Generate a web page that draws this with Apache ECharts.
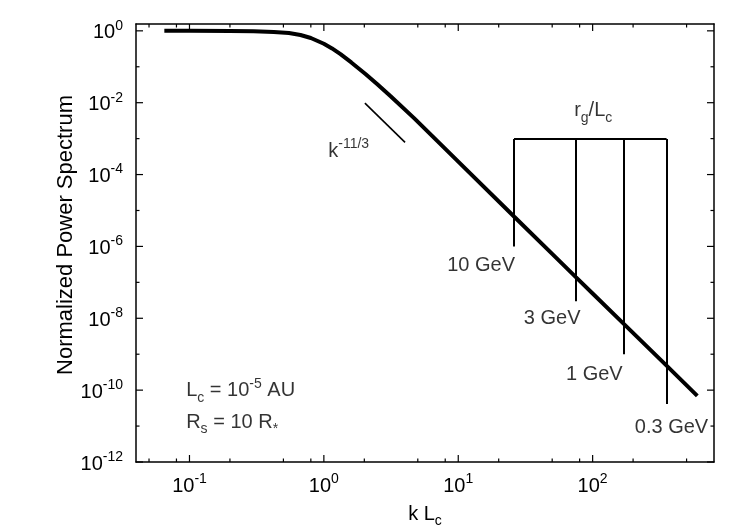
<!DOCTYPE html>
<html>
<head>
<meta charset="utf-8">
<script src="https://cdn.jsdelivr.net/npm/echarts@6/dist/echarts.min.js"></script>
<style>
  html, body { margin: 0; padding: 0; background: #fff; }
  #chart { width: 750px; height: 525px; }
</style>
</head>
<body>
<div id="chart"></div>
<script>
// spectrum (k L_c, normalized power)
const kValues = [0.065, 0.1, 0.2, 0.3, 0.424, 0.55, 0.67, 0.8, 1.0, 1.15, 1.33, 1.6, 2.04, 2.5, 3.14, 4.69, 7, 10, 26, 50, 75, 100, 169, 355, 601];
const powerValues = [1.0, 1.0, 0.991, 0.970, 0.933, 0.871, 0.767, 0.631, 0.437, 0.324, 0.224, 0.132, 0.063, 0.0324, 0.0151, 0.00372, 8.5e-4, 2.29e-4, 6.8e-6, 6.2e-7, 1.4e-7, 4.9e-8, 7.2e-9, 4.8e-10, 6.9e-11];

// k^-11/3 guide segment
const slopeK = [2.02, 4.02];
const slopeP = [9.7e-3, 7.9e-4];

// r_g/L_c bracket
const bracketK = [26, 75, 170, 355];
const bracketTop = 9.7e-4;
const bracketBottoms = [1e-6, 3e-8, 1e-9, 4.1e-11];
const bracketNames = ['10 GeV', '3 GeV', '1 GeV', '0.3 GeV'];
const bracketLabelK = [14.8, 50, 103, 386];
const bracketLabelP = [2.95e-7, 9.6e-9, 2.8e-10, 9.2e-12];

// tick values
const xMajorTicks = [0.1, 1, 10, 100];
const xMinorTicks = [0.05, 0.08, 0.2, 0.5, 0.8, 2, 5, 8, 20, 50, 80, 200, 500];
const yMajorTicks = [1, 1e-2, 1e-4, 1e-6, 1e-8, 1e-10, 1e-12];
const yMinorTicks = [1e-1, 1e-3, 1e-5, 1e-7, 1e-9, 1e-11];
const yTickExponents = [0, -2, -4, -6, -8, -10, -12];

const FONT = 'Liberation Sans, Arial, Helvetica, sans-serif';
const LH = 28;

const chart = echarts.init(document.getElementById('chart'), null, {renderer: 'canvas'});

// rich styles: n = normal, sup = superscript, sub = subscript
const rich = {
  n: {fontSize: 20, fontFamily: FONT, color: '#000', lineHeight: LH, verticalAlign: 'middle'},
  sup: {fontSize: 14, fontFamily: FONT, color: '#000', lineHeight: LH, verticalAlign: 'top'},
  sub: {fontSize: 14, fontFamily: FONT, color: '#000', lineHeight: LH, verticalAlign: 'bottom'}
};

function powLabel(v) {
  const e = Math.log10(v);
  const r = Math.round(e);
  if (Math.abs(e - r) > 1e-6) return '';
  return '{n|10}{sup|' + r + '}';
}

function xTicks(len) {
  return function (params, api) {
    const cs = params.coordSys;
    const x = api.coord([api.value(0), 1e-6])[0];
    const yb = cs.y + cs.height;
    const style = {stroke: '#000', lineWidth: 1.2};
    return {type: 'group', children: [
      {type: 'line', shape: {x1: x, y1: yb, x2: x, y2: yb - len}, style: style},
      {type: 'line', shape: {x1: x, y1: cs.y, x2: x, y2: cs.y + len}, style: style}
    ]};
  };
}

function yTicks(len) {
  return function (params, api) {
    const cs = params.coordSys;
    const y = api.coord([1, api.value(0)])[1];
    const xr = cs.x + cs.width;
    const style = {stroke: '#000', lineWidth: 1.2};
    return {type: 'group', children: [
      {type: 'line', shape: {x1: cs.x, y1: y, x2: cs.x + len, y2: y}, style: style},
      {type: 'line', shape: {x1: xr, y1: y, x2: xr - len, y2: y}, style: style}
    ]};
  };
}

// y tick labels (10^n, every second decade)
function yLabels(params, api) {
  const cs = params.coordSys;
  const y = api.coord([1, api.value(0)])[1];
  return {
    type: 'text',
    style: {
      text: '{n|10}{sup|' + api.value(1) + '}',
      x: cs.x - 13,
      y: y + 2,
      align: 'right',
      verticalAlign: 'middle',
      rich: rich
    }
  };
}

// line segments for annotations
const segments = [];
segments.push({coords: [[slopeK[0], slopeP[0]], [slopeK[1], slopeP[1]]], lineStyle: {width: 1.6}});
segments.push({coords: [[bracketK[0], bracketTop], [bracketK[bracketK.length - 1], bracketTop]]});
bracketK.forEach((k, i) => {
  segments.push({coords: [[k, bracketTop], [k, bracketBottoms[i]]]});
});

function textPoint(k, p, text, align) {
  return {
    value: [k, p],
    label: {
      show: true,
      position: align === 'left' ? 'right' : 'inside',
      distance: 0,
      align: align || 'center',
      verticalAlign: 'middle',
      formatter: text,
      rich: rich
    }
  };
}

const texts = [
  textPoint(1.53, 4.5e-4, '{n|k}{sup|-11/3}'),
  textPoint(101, 5.9e-3, '{n|r}{sub|g}{n|/L}{sub|c}'),
  textPoint(0.0945, 9.5e-11, '{n|L}{sub|c}{n| = 10}{sup|-5}{n| AU}', 'left'),
  textPoint(0.0945, 1.26e-11, '{n|R}{sub|s}{n| = 10 R}{sub|*}', 'left')
];
bracketNames.forEach((name, i) => {
  texts.push(textPoint(bracketLabelK[i], bracketLabelP[i], '{n|' + name + '}'));
});

const axisLineStyle = {lineStyle: {color: '#000', width: 1.5}};

const option = {
  animation: false,
  backgroundColor: '#fff',
  grid: {left: 136, right: 36, top: 24, bottom: 63, containLabel: false, outerBoundsMode: 'none'},
  xAxis: [{
    type: 'log', logBase: 10, min: 0.04, max: 800, splitNumber: 4,
    position: 'bottom',
    axisLine: axisLineStyle,
    axisTick: {show: false},
    splitLine: {show: false},
    axisLabel: {margin: 10, formatter: v => powLabel(v), rich: rich},
    name: '{n|k L}{sub|c}',
    nameLocation: 'middle',
    nameGap: 38,
    nameTextStyle: {rich: rich}
  }, {
    type: 'log', logBase: 10, min: 0.04, max: 800, splitNumber: 4,
    position: 'top',
    axisLine: axisLineStyle,
    axisTick: {show: false},
    splitLine: {show: false},
    axisLabel: {show: false}
  }],
  yAxis: [{
    type: 'log', logBase: 10, min: 1e-12, max: 1.55, splitNumber: 12,
    position: 'left',
    axisLine: axisLineStyle,
    axisTick: {show: false},
    splitLine: {show: false},
    axisLabel: {show: false},
    name: 'Normalized Power Spectrum',
    nameLocation: 'middle',
    nameGap: 59,
    nameTextStyle: {fontSize: 22, fontFamily: FONT, color: '#000', padding: [0, 0, 0, 16]}
  }, {
    type: 'log', logBase: 10, min: 1e-12, max: 1.55, splitNumber: 12,
    position: 'right',
    axisLine: axisLineStyle,
    axisTick: {show: false},
    splitLine: {show: false},
    axisLabel: {show: false}
  }],
  series: [
    {
      type: 'line',
      data: kValues.map((k, i) => [k, powerValues[i]]),
      showSymbol: false,
      smooth: false,
      lineStyle: {color: '#000', width: 4},
      z: 5
    },
    {
      type: 'lines',
      coordinateSystem: 'cartesian2d',
      data: segments,
      lineStyle: {color: '#000', width: 2, opacity: 1},
      z: 4
    },
    {
      type: 'scatter',
      data: texts,
      symbolSize: 0,
      z: 6
    },
    {type: 'custom', data: xMajorTicks.map(v => [v]), renderItem: xTicks(7), z: 3},
    {type: 'custom', data: xMinorTicks.map(v => [v]), renderItem: xTicks(3.5), z: 3},
    {type: 'custom', data: yMajorTicks.map(v => [v]), renderItem: yTicks(7), z: 3},
    {type: 'custom', data: yMinorTicks.map(v => [v]), renderItem: yTicks(3.5), z: 3},
    {type: 'custom', data: yMajorTicks.map((v, i) => [v, yTickExponents[i]]), renderItem: yLabels, z: 3}
  ]
};

chart.setOption(option);
window.addEventListener('resize', () => chart.resize());
</script>
</body>
</html>
